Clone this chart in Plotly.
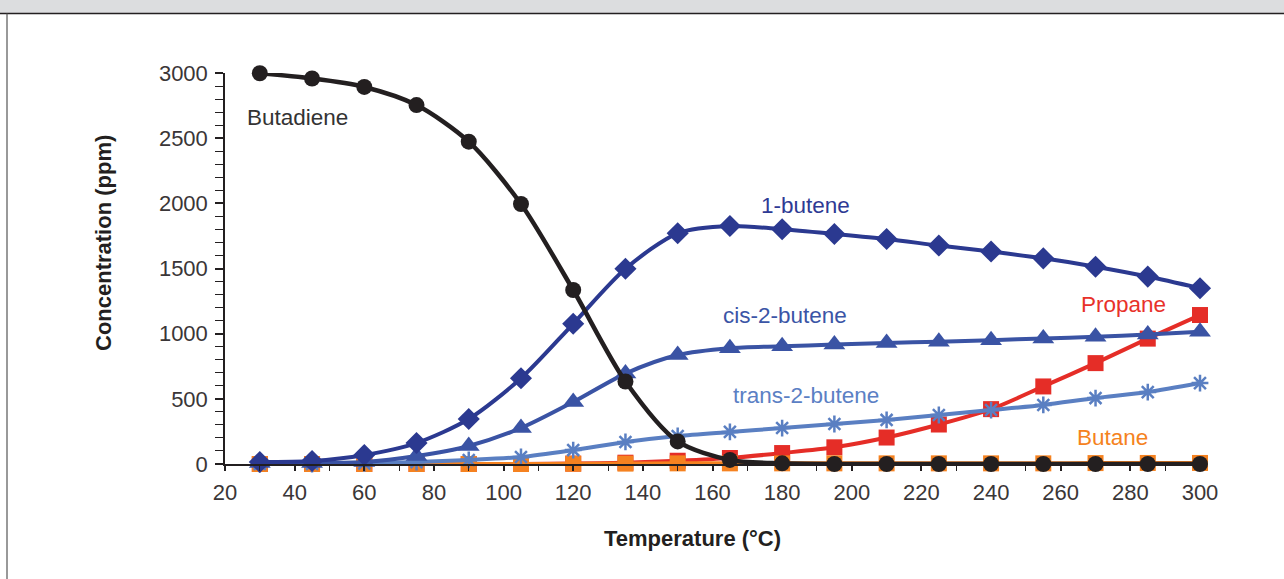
import plotly.graph_objects as go

temperature = [30, 45, 60, 75, 90, 105, 120, 135, 150, 165, 180, 195, 210, 225, 240, 255, 270, 285, 300]
butadiene = [2998, 2958, 2893, 2754, 2473, 1995, 1335, 633, 173, 31, 5, 0, 0, 0, 0, 0, 0, 0, 0]
butene_1 = [15, 23, 69, 161, 345, 658, 1076, 1498, 1770, 1826, 1801, 1765, 1726, 1676, 1630, 1578, 1514, 1438, 1348]
cis_2_butene = [8, 8, 15, 61, 138, 276, 476, 694, 836, 888, 903, 916, 929, 938, 950, 963, 976, 994, 1014]
trans_2_butene = [0, 0, 5, 15, 31, 54, 107, 169, 215, 246, 276, 307, 338, 376, 414, 453, 506, 552, 621]
propane = [0, 0, 0, 0, 0, 0, 3, 10, 25, 46, 84, 128, 203, 303, 421, 595, 774, 962, 1143]
butane = [0, 0, 0, 0, 0, 0, 2, 3, 5, 5, 5, 5, 5, 5, 5, 5, 7, 8, 8]

x_ticks = list(range(20, 301, 20))
y_ticks = list(range(0, 3001, 500))

series_labels = ["Butadiene", "1-butene", "cis-2-butene", "trans-2-butene", "Propane", "Butane"]
label_x = [25.7, 186.6, 180.8, 186.9, 277.9, 275.0]
label_y = [2662, 1987, 1136, 522, 1220, 207]

FONT = "Liberation Sans, Arial, Helvetica, sans-serif"
AX = "#231f20"
TXT = "#3a3637"

fig = go.Figure()

def add(y, color, symbol, size, name, mline=None, width=4):
    marker = dict(color=color, symbol=symbol, size=size)
    if mline:
        marker["line"] = mline
    fig.add_trace(go.Scatter(
        x=temperature, y=y, mode="lines+markers", name=name,
        line=dict(color=color, width=width, shape="spline", smoothing=0.8),
        marker=marker, cliponaxis=False, showlegend=False))

add(propane, "#e52d27", "square", 16, "Propane")
add(butane, "#f58220", "square", 16, "Butane")
add(trans_2_butene, "#5a7fc2", "asterisk-open", 14, "trans-2-butene",
    mline=dict(color="#5a7fc2", width=2.5))
add(cis_2_butene, "#3a53a4", "triangle-up", 19, "cis-2-butene")
add(butene_1, "#2b3990", "diamond", 17, "1-butene")
add(butadiene, "#231f20", "circle", 16, "Butadiene", width=4.5)

label_colors = ["#333333", "#2e3a94", "#3b55a6", "#5b80c4", "#e8312a", "#f58220"]
anchors = ["left", "center", "center", "center", "center", "center"]
for t, lx, ly, c, a in zip(series_labels, label_x, label_y, label_colors, anchors):
    fig.add_annotation(x=lx, y=ly, xref="x", yref="y", text=t, showarrow=False,
                       xanchor=a, yanchor="middle",
                       font=dict(family=FONT, size=22.5, color=c))

# axis titles
fig.add_annotation(x=(692 - 225) / 975, y=(464 - 538) / 391, xref="paper", yref="paper",
                   text="<b>Temperature (°C)</b>", showarrow=False, xanchor="center",
                   yanchor="middle", font=dict(family=FONT, size=22, color=AX))
fig.add_annotation(x=(103 - 225) / 975, y=(464 - 243) / 391, xref="paper", yref="paper",
                   text="<b>Concentration (ppm)</b>", showarrow=False, textangle=-90,
                   xanchor="center", yanchor="middle",
                   font=dict(family=FONT, size=22, color=AX))

# frame: gray band on top, dark rule, left border
fig.add_shape(type="rect", xref="paper", yref="paper",
              x0=-225 / 975, x1=1059 / 975, y0=(464 - 13) / 391, y1=464 / 391,
              fillcolor="#dcdddf", line=dict(width=0), layer="below")
fig.add_shape(type="line", xref="paper", yref="paper",
              x0=-225 / 975, x1=1059 / 975, y0=(464 - 13.5) / 391, y1=(464 - 13.5) / 391,
              line=dict(color="#231f20", width=1.5))
fig.add_shape(type="line", xref="paper", yref="paper",
              x0=-218 / 975, x1=-218 / 975, y0=(464 - 13.5) / 391, y1=(464 - 580) / 391,
              line=dict(color="#555555", width=1.2))

fig.update_xaxes(range=[20, 300], tickvals=x_ticks, showgrid=False, zeroline=False,
                 showline=True, linecolor=AX, linewidth=1.5,
                 ticks="outside", ticklen=5, tickwidth=1.5, tickcolor=AX,
                 minor=dict(dtick=10, ticks="outside", ticklen=5, tickwidth=1.2, tickcolor=AX),
                 tickfont=dict(family=FONT, size=22, color=TXT), ticklabelstandoff=3)
fig.update_yaxes(range=[0, 3000], tickvals=y_ticks, showgrid=False, zeroline=False,
                 showline=True, linecolor=AX, linewidth=1.5,
                 ticks="outside", ticklen=8, tickwidth=1.5, tickcolor=AX,
                 minor=dict(dtick=100, ticks="outside", ticklen=8, tickwidth=1.2, tickcolor=AX),
                 tickfont=dict(family=FONT, size=22, color=TXT), ticklabelstandoff=3)

fig.update_layout(width=1284, height=579,
                  margin=dict(l=225, r=84, t=73, b=115),
                  paper_bgcolor="white", plot_bgcolor="white",
                  font=dict(family=FONT))

fig.write_html("out.html", config={"displayModeBar": False},
               post_script="document.body.style.margin='0';")
